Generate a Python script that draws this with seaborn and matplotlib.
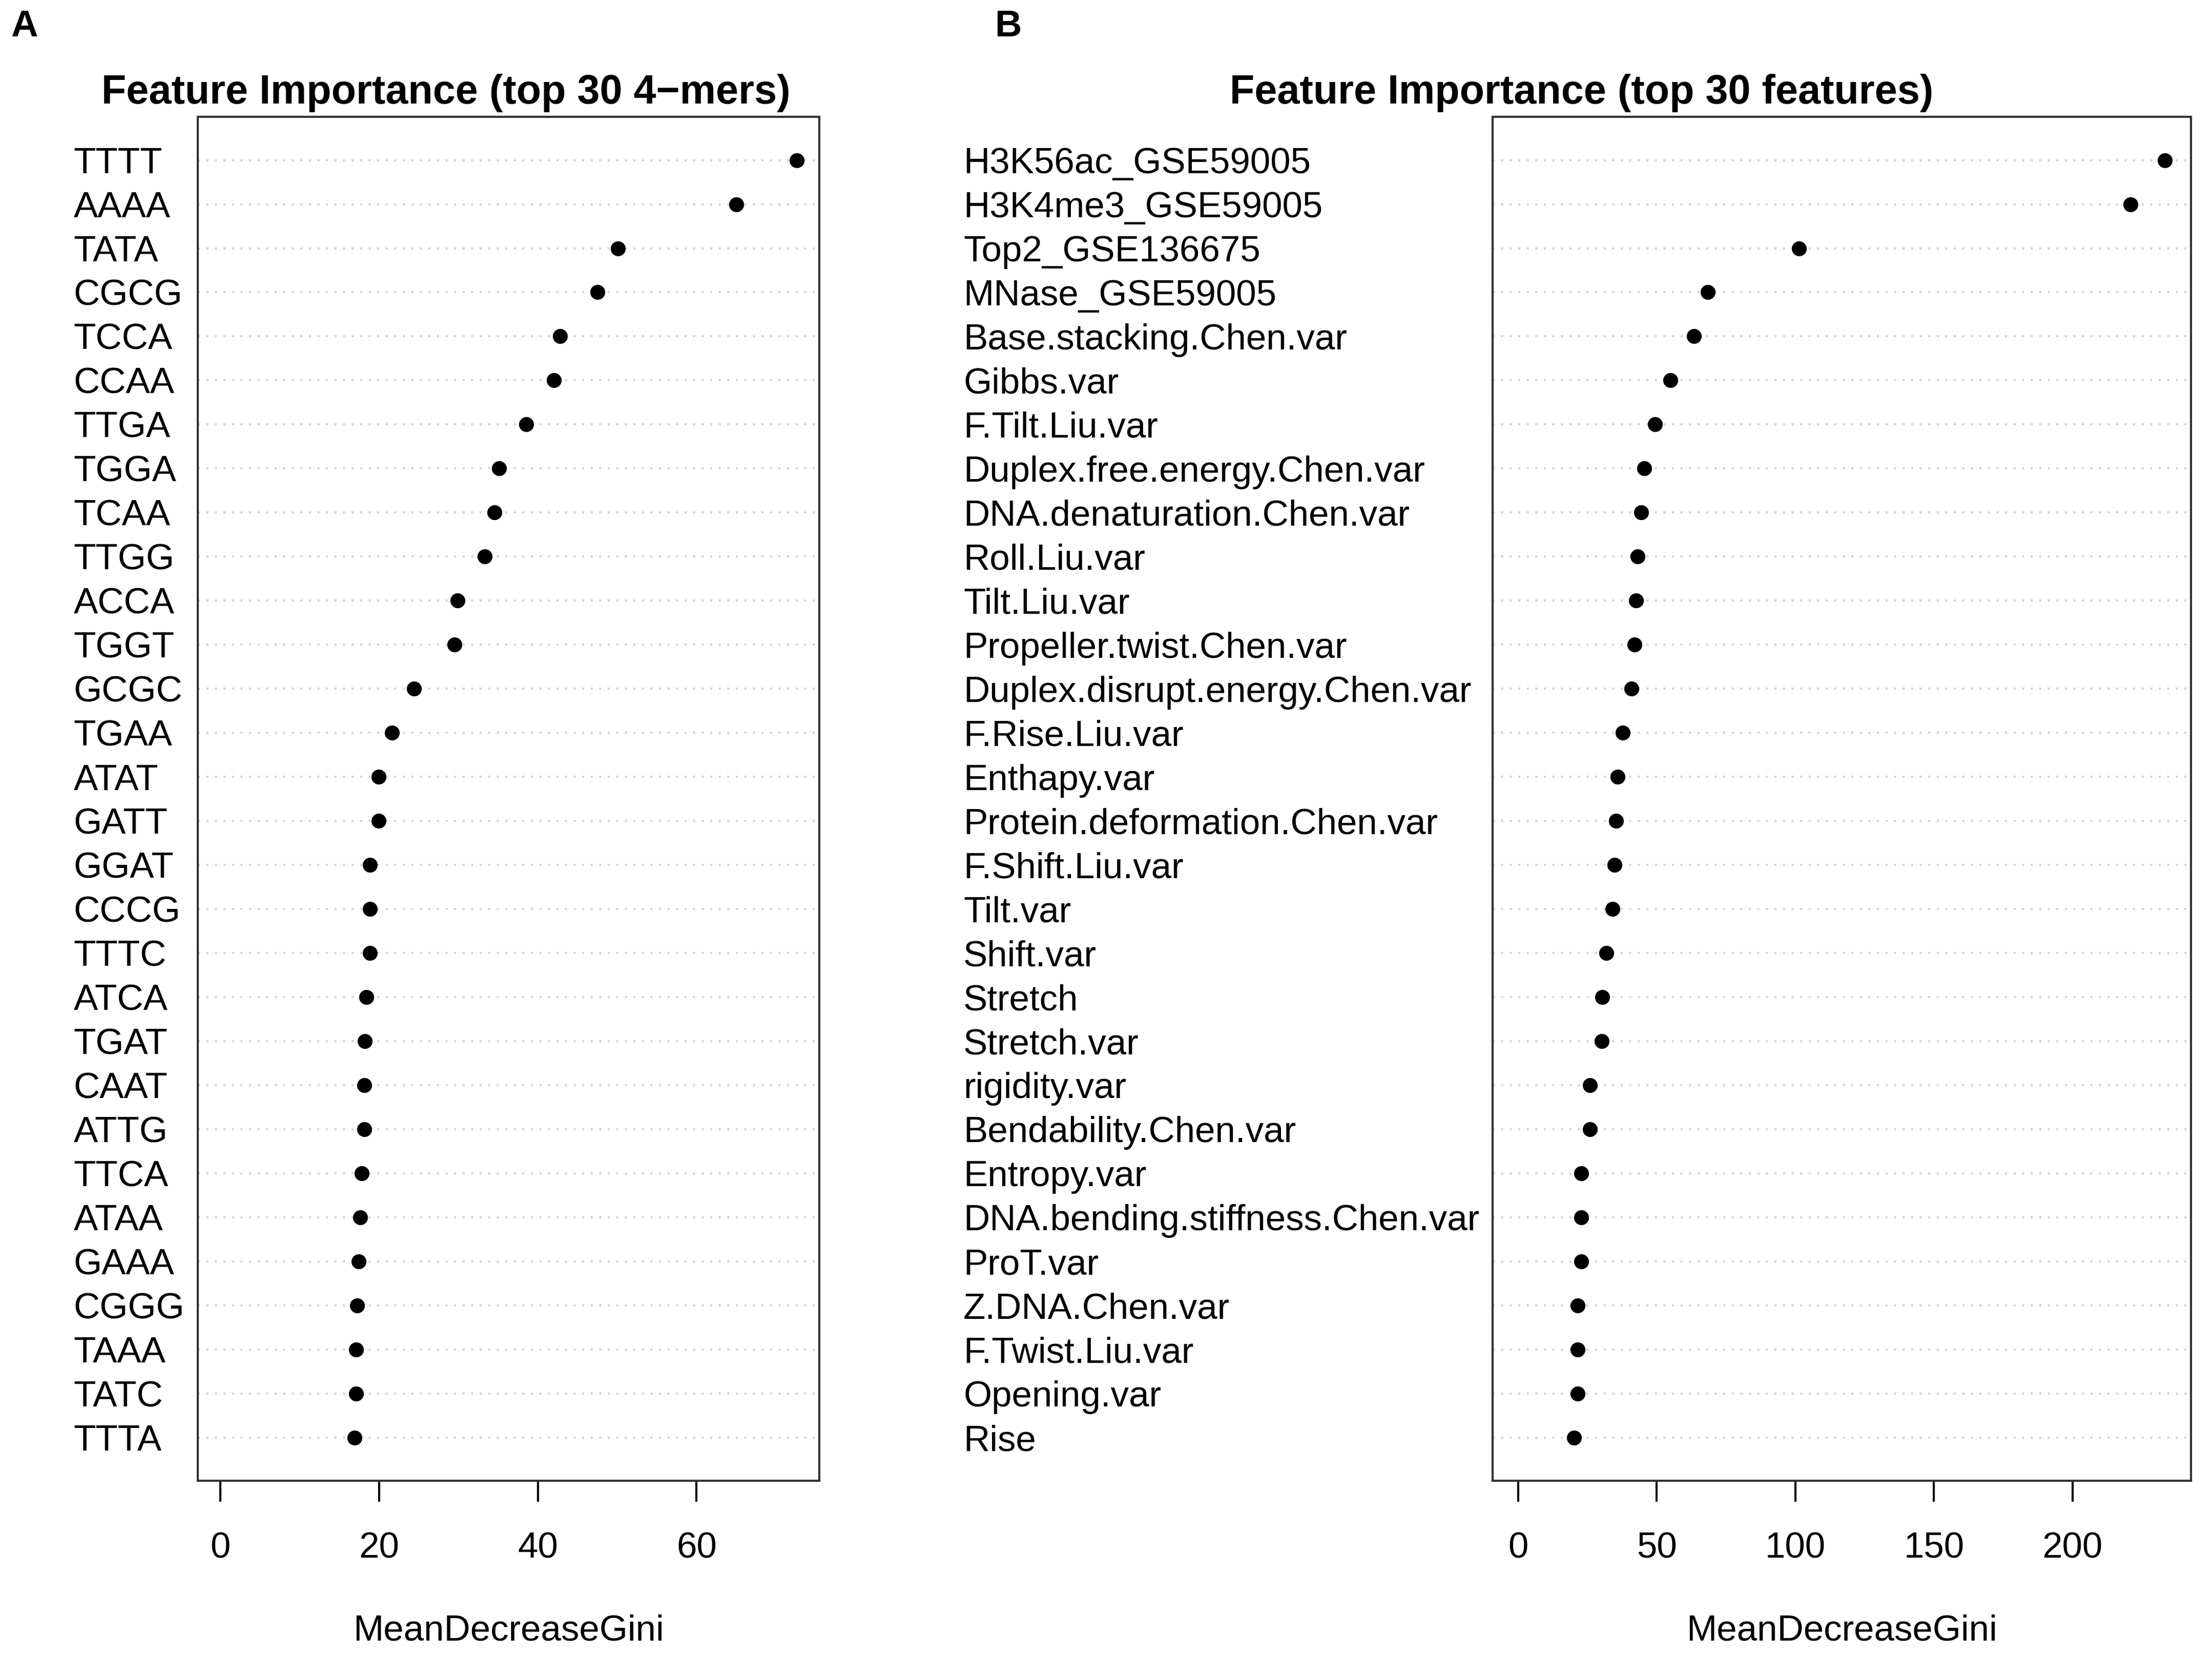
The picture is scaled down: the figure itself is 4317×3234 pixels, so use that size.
import matplotlib
matplotlib.use("Agg")
import matplotlib.pyplot as plt
import seaborn as sns

# Panel A: top 30 4-mers
kmer_labels = ["TTTT", "AAAA", "TATA", "CGCG", "TCCA", "CCAA", "TTGA", "TGGA",
               "TCAA", "TTGG", "ACCA", "TGGT", "GCGC", "TGAA", "ATAT", "GATT",
               "GGAT", "CCCG", "TTTC", "ATCA", "TGAT", "CAAT", "ATTG", "TTCA",
               "ATAA", "GAAA", "CGGG", "TAAA", "TATC", "TTTA"]
kmer_gini = [72.6, 65.0, 50.1, 47.5, 42.8, 42.0, 38.5, 35.1, 34.5, 33.3,
             29.9, 29.5, 24.4, 21.6, 19.9, 19.9, 18.8, 18.8, 18.8, 18.4,
             18.2, 18.1, 18.1, 17.8, 17.6, 17.4, 17.2, 17.1, 17.1, 16.9]

# Panel B: top 30 features
feat_labels = ["H3K56ac_GSE59005", "H3K4me3_GSE59005", "Top2_GSE136675",
               "MNase_GSE59005", "Base.stacking.Chen.var", "Gibbs.var",
               "F.Tilt.Liu.var", "Duplex.free.energy.Chen.var",
               "DNA.denaturation.Chen.var", "Roll.Liu.var", "Tilt.Liu.var",
               "Propeller.twist.Chen.var", "Duplex.disrupt.energy.Chen.var",
               "F.Rise.Liu.var", "Enthapy.var", "Protein.deformation.Chen.var",
               "F.Shift.Liu.var", "Tilt.var", "Shift.var", "Stretch",
               "Stretch.var", "rigidity.var", "Bendability.Chen.var",
               "Entropy.var", "DNA.bending.stiffness.Chen.var", "ProT.var",
               "Z.DNA.Chen.var", "F.Twist.Liu.var", "Opening.var", "Rise"]
feat_gini = [233.4, 221.0, 101.4, 68.4, 63.4, 54.9, 49.3, 45.4, 44.3, 43.1,
             42.6, 42.0, 40.8, 37.8, 35.8, 35.3, 34.8, 34.1, 31.8, 30.4,
             30.2, 25.8, 25.8, 22.8, 22.8, 22.8, 21.4, 21.4, 21.4, 20.1]

sns.set_style("white")
plt.rcParams["font.family"] = ["Liberation Sans", "DejaVu Sans"]
plt.rcParams["text.color"] = "black"
plt.rcParams["axes.labelcolor"] = "black"
plt.rcParams["xtick.color"] = "black"
plt.rcParams["ytick.color"] = "black"

fig = plt.figure(figsize=(4317 / 300, 3234 / 300), dpi=300)


def dot_panel(rect, labels, values, xlim, xticks, label_pad, title, title_x):
    ax = fig.add_axes(rect)
    sns.stripplot(x=values, y=labels, ax=ax, jitter=False, color="black",
                  size=7, orient="h", zorder=3)
    n = len(labels)
    ax.set_ylim(n - 1 + 0.98, -0.98)
    ax.set_xlim(*xlim)
    ax.set_xticks(xticks)
    ax.set_yticks(range(n), labels, ha="left")
    ax.tick_params(axis="y", length=0, pad=label_pad, labelsize=17)
    ax.tick_params(axis="x", length=9.8, width=1.0, pad=14, labelsize=17,
                   bottom=True, color="black")
    ax.grid(axis="y", linestyle=(0, (1, 3)), color="lightgray", lw=1.0)
    ax.grid(axis="x", visible=False)
    ax.set_axisbelow(True)
    for sp in ax.spines.values():
        sp.set_visible(True)
        sp.set_color("#333333")
        sp.set_linewidth(1.0)
    ax.set_xlabel("MeanDecreaseGini", fontsize=17, labelpad=23)
    ax.set_ylabel("")
    fig.text(title_x, 0.944, title, ha="center", va="center",
             fontsize=19, fontweight="bold")
    return ax


dot_panel([0.0893, 0.1064, 0.2812, 0.8230], kmer_labels, kmer_gini,
          (-2.9, 75.5), [0, 20, 40, 60], 58.1,
          "Feature Importance (top 30 4\u2212mers)", 0.2015)
dot_panel([0.6747, 0.1064, 0.3157, 0.8230], feat_labels, feat_gini,
          (-9.3, 242.7), [0, 50, 100, 150, 200], 247.8,
          "Feature Importance (top 30 features)", 0.715)

fig.text(0.005, 0.984, "A", ha="left", va="center", fontsize=17.5,
         fontweight="bold")
fig.text(0.4497, 0.984, "B", ha="left", va="center", fontsize=17.5,
         fontweight="bold")

fig.savefig("out.png", dpi=300)
